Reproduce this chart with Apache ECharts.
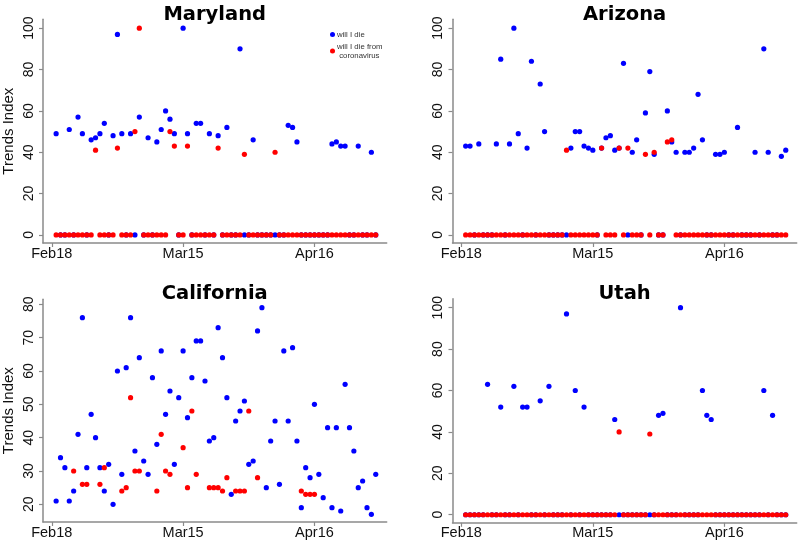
<!DOCTYPE html>
<html>
<head>
<meta charset="utf-8">
<script src="https://cdn.jsdelivr.net/npm/echarts@6/dist/echarts.min.js"></script>
<style>html,body{margin:0;padding:0;background:#fff}#c{width:800px;height:545px}</style>
</head>
<body>
<div id="c"></div>
<script>
// Day index 1..74 (first point = day 1); ticks at day 0, 30, 60
const tickDays = [0, 30, 60];
const tickLabels = ['Feb18', 'Mar15', 'Apr16'];
const yTicks100 = [0, 20, 40, 60, 80, 100];
const yTicksCA = [20, 30, 40, 50, 60, 70, 80];
const states = ['Maryland', 'Arizona', 'California', 'Utah'];
const seriesNames = ['will I die', 'will I die from coronavirus'];

const marylandDie = [49,0,0,51,0,57,49,0,46,47, 49,54,0,48,97,49,0,49,0,57, 0,47,0,45,51,60,56,49,0,100,
  49,0,54,54,0,49,0,48,0,52, 0,0,90,0,0,46,0,0,0,0, 0,0,0,53,52,45,0,0,0,0, 0,0,0,44,45,43,43,0,0,43, 0,0,40,0];
const marylandCorona = [0,0,0,0,0,0,0,0,0,41, 0,0,0,0,42,0,0,0,50,100, 0,0,0,0,0,0,50,43,0,0,
  43,0,0,0,0,0,0,42,0,0, 0,0,0,39,0,0,0,0,0,0, 40,0,0,0,0,0,0,0,0,0, 0,0,0,0,0,0,0,0,0,0, 0,0,0,0];

const arizonaDie = [43,43,0,44,0,0,0,44,85,0, 44,100,49,0,42,84,0,73,50,0, 0,0,0,0,42,50,50,43,42,41,
  0,42,47,48,41,42,83,0,40,46, 0,59,79,39,0,0,60,45,40,0, 40,40,42,68,46,0,0,39,39,40, 0,0,52,0,0,0,40,0,90,40, 0,0,38,41];
const arizonaCorona = [0,0,0,0,0,0,0,0,0,0, 0,0,0,0,0,0,0,0,0,0, 0,0,0,41,0,0,0,0,0,0,
  0,42,0,0,0,42,0,42,0,0, 0,39,0,40,0,0,45,46,0,0, 0,0,0,0,0,0,0,0,0,0, 0,0,0,0,0,0,0,0,0,0, 0,0,0,0];

const californiaDie = [21,34,31,21,24,41,76,31,47,40, 31,24,32,20,60,29,61,76,36,64, 33,29,58,38,66,47,54,32,52,66,
  46,58,69,69,57,39,40,73,64,52, 23,45,48,51,32,33,72,79,25,39, 45,26,66,45,67,39,19,31,28,50, 29,22,43,19,43,18,56,43,36,25, 27,19,17,29];
const californiaCorona = [null,null,null,null,30,null,26,26,null,null, 26,31,null,null,null,24,25,52,30,30,
  null,null,null,24,41,30,29,null,null,37, 25,48,29,null,null,25,25,25,24,28, null,24,24,24,48,null,28,null,null,null,
  null,null,null,null,null,null,24,23,23,23, null,null,null,null,null,null,null,null,null,null, null,null,null,null];

const utahDie = [0,0,0,0,0,63,0,0,52,0, 0,62,0,52,52,0,0,55,0,62, 0,0,0,97,0,60,0,52,0,0,
  0,0,0,0,46,0,0,0,0,0, 0,0,0,0,48,49,0,0,0,100, 0,0,0,0,60,48,46,0,0,0, 0,0,0,0,0,0,0,0,60,0, 48,0,0,0];
const utahCorona = [0,0,0,0,0,0,0,0,0,0, 0,0,0,0,0,0,0,0,0,0, 0,0,0,0,0,0,0,0,0,0,
  0,0,0,0,0,40,0,0,0,0, 0,0,39,0,0,0,0,0,0,0, 0,0,0,0,0,0,0,0,0,0, 0,0,0,0,0,0,0,0,0,0, 0,0,0,0];

const dieData = [marylandDie, arizonaDie, californiaDie, utahDie];
const coronaData = [marylandCorona, arizonaCorona, californiaCorona, utahCorona];

function pairs(arr) {
  const out = [];
  arr.forEach((v, i) => { if (v !== null && v !== undefined) out.push([i + 1, v]); });
  return out;
}

const FONT = 'Liberation Sans';
const axisColor = '#8a8a8a';
const grids = [
  { left: 42.7, width: 344, top: 19.3, height: 223.7 },
  { left: 452.5, width: 344.2, top: 19.3, height: 223.7 },
  { left: 42.7, width: 344, top: 299.3, height: 222.7 },
  { left: 452.5, width: 344.2, top: 298.8, height: 224 }
];
const yRanges = [[-3.9, 104.3], [-3.9, 104.3], [14.7, 81.5], [-3.9, 104.3]];
const yTickSets = [yTicks100, yTicks100, yTicksCA, yTicks100];
const titleTops = [4.5, 4.5, 284.3, 284.3];

const option = {
  animation: false,
  backgroundColor: '#fff',
  title: states.map((s, i) => ({
    text: s,
    left: grids[i].left + grids[i].width / 2,
    textAlign: 'center',
    top: titleTops[i],
    padding: 0,
    textStyle: { fontFamily: 'DejaVu Sans', fontWeight: 'bold', fontSize: 19.5, color: '#000' }
  })),
  legend: {
    data: seriesNames,
    orient: 'vertical',
    left: 330,
    top: 30,
    padding: 0,
    itemWidth: 5,
    itemHeight: 5,
    itemGap: 3,
    icon: 'circle',
    formatter: n => n === seriesNames[1] ? 'will I die from\n coronavirus' : n,
    textStyle: { fontFamily: FONT, fontSize: 7.8, color: '#333', lineHeight: 9, padding: [0, 0, 0, -3] }
  },
  grid: grids.map(g => Object.assign({ containLabel: false }, g)),
  xAxis: grids.map((g, i) => ({
    type: 'value', gridIndex: i, min: -2, max: 76.5,
    axisLine: { show: true, onZero: false, lineStyle: { color: axisColor, width: 1.5 } },
    axisTick: { show: true, customValues: tickDays, length: 4, lineStyle: { color: axisColor, width: 1.2 } },
    axisLabel: { customValues: tickDays, formatter: v => tickLabels[tickDays.indexOf(v)], margin: 3,
      fontFamily: FONT, fontSize: 14.5, color: '#111' },
    splitLine: { show: false }
  })),
  yAxis: grids.map((g, i) => ({
    type: 'value', gridIndex: i, min: yRanges[i][0], max: yRanges[i][1],
    name: (i % 2 === 0) ? 'Trends Index' : '',
    nameLocation: 'middle', nameGap: 27,
    nameTextStyle: { fontFamily: FONT, fontSize: 15, color: '#111' },
    axisLine: { show: true, onZero: false, lineStyle: { color: axisColor, width: 1.5 } },
    axisTick: { show: true, customValues: yTickSets[i], length: 4, lineStyle: { color: axisColor, width: 1.2 } },
    axisLabel: { customValues: yTickSets[i], rotate: 90, margin: 7, fontFamily: FONT, fontSize: 14, color: '#111' },
    splitLine: { show: false }
  })),
  series: []
};

for (let i = 0; i < 4; i++) {
  option.series.push({
    name: seriesNames[0], type: 'scatter', xAxisIndex: i, yAxisIndex: i,
    symbol: 'circle', symbolSize: 5.2, itemStyle: { color: '#0000ff', opacity: 1 },
    emphasis: { disabled: true }, data: pairs(dieData[i])
  });
  option.series.push({
    name: seriesNames[1], type: 'scatter', xAxisIndex: i, yAxisIndex: i,
    symbol: 'circle', symbolSize: 5.2, itemStyle: { color: '#ff0000', opacity: 1 },
    emphasis: { disabled: true }, data: pairs(coronaData[i])
  });
}

const chart = echarts.init(document.getElementById('c'), null, { renderer: 'canvas' });
chart.setOption(option);
</script>
</body>
</html>
